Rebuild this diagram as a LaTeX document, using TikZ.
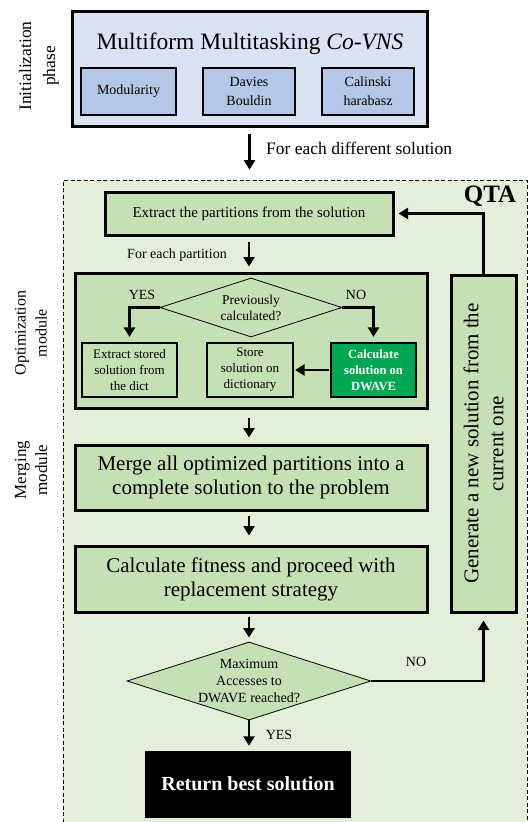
\documentclass[tikz,border=0pt]{standalone}
\usepackage{fontspec}
\setmainfont{Liberation Serif}
\usetikzlibrary{arrows.meta,shapes.geometric,calc}
\definecolor{topblue}{HTML}{DAE3F3}
\definecolor{subblue}{HTML}{B4C7E7}
\definecolor{regiongreen}{HTML}{E2F0D9}
\definecolor{boxgreen}{HTML}{C5E0B4}
\definecolor{dwave}{RGB}{0,166,81}
\tikzset{
  bigbox/.style={draw, line width=3pt, fill=boxgreen, inner sep=0pt, align=center},
  smallbox/.style={draw, line width=2.2pt, fill=boxgreen, inner sep=0pt, align=center, font=\fontsize{13}{16}\selectfont},
  subbox/.style={draw, line width=2.2pt, fill=subblue, inner sep=0pt, align=center, font=\fontsize{14}{19}\selectfont},
  decision/.style={diamond, draw, line width=0.8pt, fill=boxgreen, align=center},
  arr/.style={line width=2.8pt, -{Triangle[length=9.5pt,width=11pt]}},
  lbl/.style={inner sep=0pt, align=center},
}
\begin{document}
\begin{tikzpicture}[x=1pt,y=-1pt]
\useasboundingbox (0,0) rectangle (532,822);
% side labels
\node[lbl, rotate=90, font=\fontsize{17.5}{24}\selectfont] (initlbl) at (39,66) {Initialization\\phase};
\node[lbl, rotate=90, font=\fontsize{16}{21}\selectfont] (optlbl) at (31,333) {Optimization\\module};
\node[lbl, rotate=90, font=\fontsize{17}{21}\selectfont] (mrglbl) at (31,470) {Merging\\module};
% init
\node[draw, line width=3pt, fill=topblue, minimum width=355, minimum height=115, inner sep=0pt] (init) at (249.5,68.5) {};
\node[lbl, font=\fontsize{23.5}{26}\selectfont] (title) at (250,44) {Multiform Multitasking \textit{Co-VNS}};
\node[subbox, minimum width=95, minimum height=47] (mod) at (128.5,91.5) {Modularity};
\node[subbox, minimum width=92, minimum height=47] (db) at (249,91.5) {Davies\\Bouldin};
\node[subbox, minimum width=92, minimum height=47] (ch) at (368,91.5) {Calinski\\harabasz};
% QTA region
\node[draw, dashed, dash pattern=on 4pt off 2.5pt, line width=0.7pt, fill=regiongreen, minimum width=464, minimum height=650, inner sep=0pt] (qta) at (295,505) {};
\draw[arr, shorten <=6pt, shorten >=10pt] (init.south) -- (init.south |- qta.north);
\node[lbl, anchor=west, font=\fontsize{17.5}{20}\selectfont] (each) at (266,148) {For each different solution};
\node[lbl, font=\bfseries\fontsize{25}{28}\selectfont] (qtalbl) at (490,196) {QTA};
% extract
\node[bigbox, minimum width=288, minimum height=43, font=\fontsize{15}{18}\selectfont] (extract) at (249,213.5) {Extract the partitions from the solution};
\node[lbl, font=\fontsize{14}{16}\selectfont] (eachpart) at (177,255) {For each partition};
% optimization module
\node[bigbox, minimum width=352, minimum height=135] (opt) at (251,340.5) {};
\draw[arr, shorten <=5pt, shorten >=5pt] (extract.south) -- (extract.south |- opt.north);
\node[decision, inner sep=0pt, minimum width=182, minimum height=59, aspect=3.1, font=\fontsize{13.5}{16}\selectfont] (prev) at (251,307.5) {Previously\\calculated?};
\node[lbl, font=\fontsize{14}{16}\selectfont] (yes1) at (142,295) {YES};
\node[lbl, font=\fontsize{14}{16}\selectfont] (no1) at (356,295) {NO};
\node[smallbox, minimum width=95, minimum height=54] (stored) at (129.5,370) {Extract stored\\solution from\\the dict};
\node[smallbox, minimum width=86, minimum height=54] (store) at (250,370) {Store\\solution on\\dictionary};
\node[smallbox, minimum width=85, minimum height=54, fill=dwave, text=white, font=\bfseries\fontsize{12.5}{16}\selectfont] (calc) at (373.5,370) {Calculate\\solution on\\DWAVE};
\draw[arr, shorten >=5pt] (prev.west) -| (stored.north);
\draw[arr, shorten >=5pt] (prev.east) -| (calc.north);
\draw[arr, shorten <=1pt, shorten >=1pt] (calc.west) -- (store.east);
% merging
\node[bigbox, minimum width=352, minimum height=65, font=\fontsize{21}{24}\selectfont] (merge) at (251,477.5) {Merge all optimized partitions into a\\complete solution to the problem};
\node[bigbox, minimum width=352, minimum height=66, font=\fontsize{21}{24}\selectfont] (fit) at (251,579) {Calculate fitness and proceed with\\replacement strategy};
\draw[arr, shorten <=8pt, shorten >=6pt] ($(opt.south)+(-2,0)$) -- ($(merge.north)+(-2,0)$);
\draw[arr, shorten <=4pt, shorten >=9pt] ($(merge.south)+(-2,0)$) -- ($(fit.north)+(-2,0)$);
% decision 2
\node[decision, inner sep=-3pt, minimum width=244, minimum height=78, aspect=3.1, font=\fontsize{14}{17}\selectfont] (maxacc) at (249,681) {Maximum\\Accesses to\\DWAVE reached?};
\draw[arr, shorten <=3pt, shorten >=4pt] (fit.south -| maxacc.north) -- (maxacc.north);
\node[draw=black, fill=black, minimum width=205, minimum height=66, inner sep=0pt, text=white, font=\bfseries\fontsize{20}{22}\selectfont] (ret) at (248,784) {Return best solution};
\draw[arr, shorten >=5pt] (maxacc.south) -- (maxacc.south |- ret.north);
\node[lbl, font=\fontsize{14}{16}\selectfont] (yes2) at (279,735) {YES};
\node[lbl, font=\fontsize{14}{16}\selectfont] (no2) at (416,662) {NO};
% generate
\node[bigbox, minimum width=65, minimum height=337] (gen) at (483.5,443.5) {};
\node[lbl, rotate=90, font=\fontsize{21}{25}\selectfont] (gentxt) at (gen.center) {Generate a new solution from the\\current one};
\draw[arr, shorten >=7pt] (maxacc.east) -| (gen.south);
\draw[arr, shorten >=4pt] (gen.north) |- (extract.east);
\end{tikzpicture}
\end{document}
